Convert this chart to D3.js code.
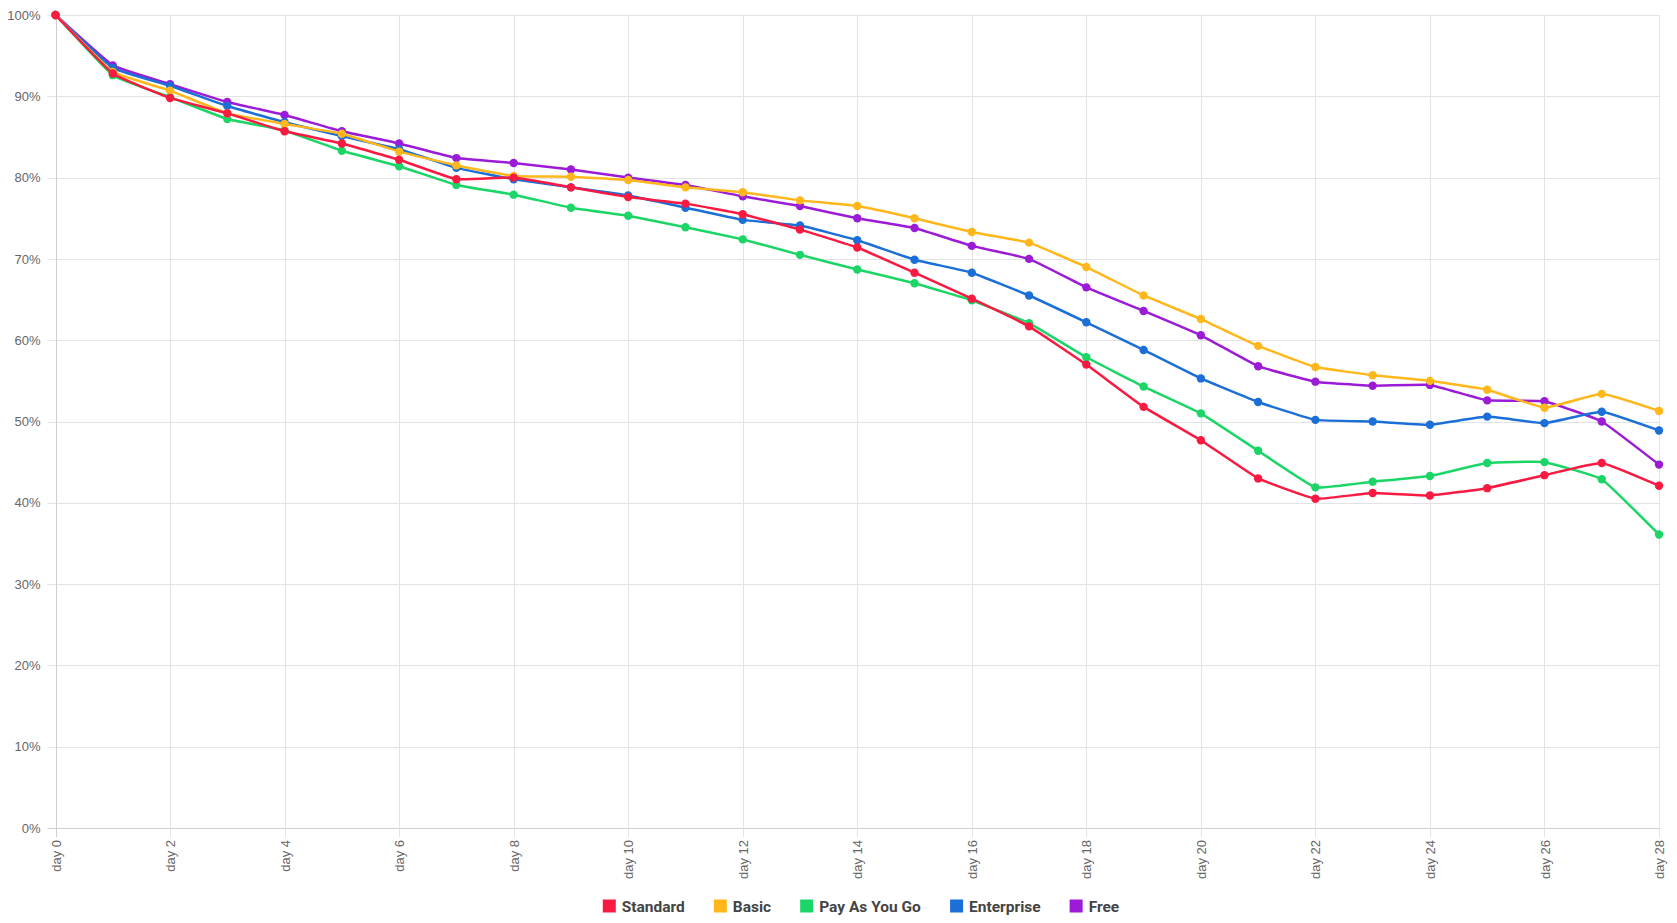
<!DOCTYPE html>
<html lang="en">
<head>
    <meta charset="UTF-8">
    <title>Retention by plan</title>
    <style>
        body {
            margin: 0;
            background: #fff;
        }
        svg {
            display: block;
        }
        .axis text {
            font-family: 'Liberation Sans', Arial, sans-serif;
            font-size: 13px;
            fill: #666;
        }
        .legend text {
            font-family: Roboto, 'Noto Sans', sans-serif;
            font-size: 15.5px;
            font-weight: bold;
            fill: #444;
        }
    </style>
    <script src="https://d3js.org/d3.v7.min.js"></script>
</head>
<body>
    <div id="chart"></div>
    <script>
        const width = 1677;
        const height = 923;
        const margin = { top: 15, right: 18, bottom: 95, left: 55.5 };

        const days = [0, 1, 2, 3, 4, 5, 6, 7, 8, 9, 10, 11, 12, 13, 14, 15, 16, 17, 18, 19, 20, 21, 22, 23, 24, 25, 26, 27, 28];
        const tickDays = [0, 2, 4, 6, 8, 10, 12, 14, 16, 18, 20, 22, 24, 26, 28];
        const yTicks = [0, 10, 20, 30, 40, 50, 60, 70, 80, 90, 100];

        const standard = [100, 92.8, 89.8, 87.9, 85.7, 84.2, 82.2, 79.8, 80.0, 78.8, 77.6, 76.8, 75.5, 73.6, 71.4, 68.3, 65.1, 61.7, 57.0, 51.8, 47.7, 43.0, 40.5, 41.2, 40.9, 41.8, 43.4, 44.9, 42.1];
        const basic = [100, 93.0, 90.7, 87.9, 86.6, 85.4, 83.2, 81.5, 80.2, 80.1, 79.7, 78.8, 78.2, 77.2, 76.5, 75.0, 73.3, 72.0, 69.0, 65.5, 62.6, 59.3, 56.7, 55.7, 55.0, 53.9, 51.7, 53.4, 51.3];
        const payAsYouGo = [100, 92.6, 89.9, 87.2, 85.8, 83.3, 81.4, 79.1, 77.9, 76.3, 75.3, 73.9, 72.4, 70.5, 68.7, 67.0, 64.9, 62.1, 57.9, 54.3, 51.0, 46.4, 41.9, 42.6, 43.3, 44.9, 45.0, 42.9, 36.1];
        const enterprise = [100, 93.5, 91.3, 88.8, 86.8, 85.1, 83.5, 81.2, 79.8, 78.8, 77.8, 76.3, 74.8, 74.1, 72.3, 69.9, 68.3, 65.5, 62.2, 58.8, 55.3, 52.4, 50.2, 50.0, 49.6, 50.6, 49.8, 51.2, 48.9];
        const free = [100, 93.8, 91.5, 89.3, 87.7, 85.7, 84.2, 82.4, 81.8, 81.0, 80.0, 79.1, 77.7, 76.5, 75.0, 73.8, 71.6, 70.0, 66.5, 63.6, 60.6, 56.8, 54.9, 54.4, 54.5, 52.6, 52.5, 50.0, 44.7];

        const seriesNames = ["Standard", "Basic", "Pay As You Go", "Enterprise", "Free"];
        const seriesValues = [standard, basic, payAsYouGo, enterprise, free];
        const seriesColors = ["#f91a42", "#ffb71b", "#1bd666", "#1b6fd6", "#9b1bd6"];

        const series = seriesNames.map((name, i) => ({
            name: name,
            color: seriesColors[i],
            values: seriesValues[i].map((v, j) => ({ day: days[j], value: v }))
        }));

        const svg = d3.select("#chart").append("svg")
            .attr("width", width)
            .attr("height", height);

        const x = d3.scaleLinear()
            .domain([0, 28])
            .range([margin.left, width - margin.right]);

        const y = d3.scaleLinear()
            .domain([0, 100])
            .range([height - margin.bottom, margin.top]);

        // grid lines
        svg.append("g")
            .selectAll("line")
            .data(yTicks)
            .join("line")
            .attr("x1", margin.left - 8)
            .attr("x2", width - margin.right)
            .attr("y1", d => Math.round(y(d)) + 0.5)
            .attr("y2", d => Math.round(y(d)) + 0.5)
            .attr("stroke", d => d === 0 ? "#cfcfcf" : "#e3e3e3")
            .attr("stroke-width", 1);

        svg.append("g")
            .selectAll("line")
            .data(tickDays)
            .join("line")
            .attr("x1", d => Math.round(x(d)) + 0.5)
            .attr("x2", d => Math.round(x(d)) + 0.5)
            .attr("y1", margin.top)
            .attr("y2", height - margin.bottom + 9)
            .attr("stroke", d => d === 0 ? "#cfcfcf" : "#e3e3e3")
            .attr("stroke-width", 1);

        // y axis labels
        const yAxis = svg.append("g")
            .attr("class", "axis")
            .attr("transform", `translate(${margin.left - 12},0)`)
            .call(d3.axisLeft(y).tickValues(yTicks).tickSize(0).tickFormat(d => d + "%"));
        yAxis.select(".domain").remove();

        // x axis labels, rotated
        const xAxis = svg.append("g")
            .attr("class", "axis")
            .attr("transform", `translate(0,${height - margin.bottom + 12})`)
            .call(d3.axisBottom(x).tickValues(tickDays).tickSize(0).tickFormat(d => "day " + d));
        xAxis.select(".domain").remove();
        xAxis.selectAll("text")
            .attr("transform", "rotate(-90)")
            .attr("text-anchor", "end")
            .attr("x", 0)
            .attr("y", 0)
            .attr("dy", "0.35em");

        const line = d3.line()
            .x(d => x(d.day))
            .y(d => y(d.value))
            .curve(d3.curveCardinal.tension(0.7));

        // first dataset sits on top, so draw in reverse
        const groups = svg.append("g")
            .selectAll("g")
            .data(series.slice().reverse())
            .join("g");

        groups.append("path")
            .attr("d", d => line(d.values))
            .attr("fill", "none")
            .attr("stroke", d => d.color)
            .attr("stroke-width", 2.5);

        groups.selectAll("circle")
            .data(d => d.values.map(v => ({ ...v, color: d.color })))
            .join("circle")
            .attr("cx", d => x(d.day))
            .attr("cy", d => y(d.value))
            .attr("r", 4.2)
            .attr("fill", d => d.color);

        // legend
        const legend = svg.append("g")
            .attr("class", "legend");

        const boxSize = 13;
        const boxGap = 6;
        const itemGap = 29;
        const items = legend.selectAll("g")
            .data(series)
            .join("g");

        items.append("rect")
            .attr("width", boxSize)
            .attr("height", boxSize)
            .attr("y", -boxSize / 2)
            .attr("fill", d => d.color);

        items.append("text")
            .attr("x", boxSize + boxGap)
            .attr("dy", "0.36em")
            .text(d => d.name);

        let offset = 0;
        const offsets = [];
        items.each(function () {
            offsets.push(offset);
            const w = this.getBBox().width;
            offset += w + itemGap;
        });
        const total = offset - itemGap;
        const legendCenter = 861;
        items.attr("transform", (d, i) => `translate(${legendCenter - total / 2 + offsets[i]},906)`);
    </script>
</body>
</html>
